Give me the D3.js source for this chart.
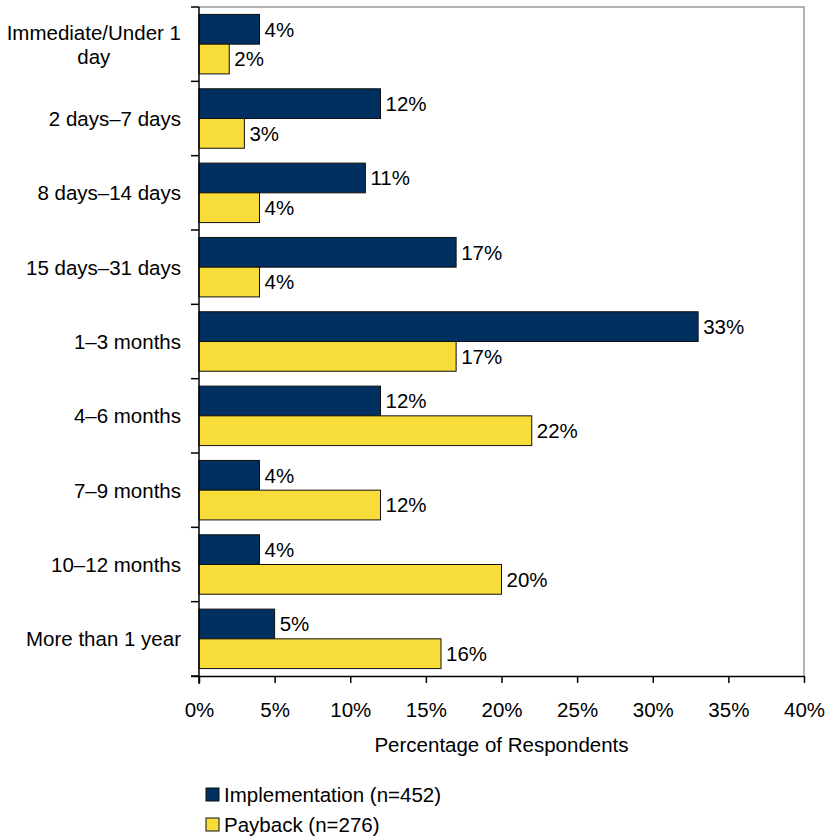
<!DOCTYPE html>
<html>
<head>
<meta charset="utf-8">
<script src="https://cdn.jsdelivr.net/npm/d3@7"></script>
<style>
  html, body { margin: 0; padding: 0; background: #fff; }
  svg { display: block; font-family: "Liberation Sans", Arial, sans-serif; }
</style>
</head>
<body>
<svg id="chart" width="826" height="838"></svg>
<script>
// Time to implement vs. time to payback, share of respondents
const categories = [
  "Immediate/Under 1 day",
  "2 days\u20137 days",
  "8 days\u201314 days",
  "15 days\u201331 days",
  "1\u20133 months",
  "4\u20136 months",
  "7\u20139 months",
  "10\u201312 months",
  "More than 1 year"
];
const seriesNames = ["Implementation (n=452)", "Payback (n=276)"];
const implementation = [4, 12, 11, 17, 33, 12, 4, 4, 5];
const payback = [2, 3, 4, 4, 17, 22, 12, 20, 16];
const xTicks = [0, 5, 10, 15, 20, 25, 30, 35, 40];
const axisTitle = "Percentage of Respondents";

const colors = ["#00305f", "#f7dc3a"];
const fontSize = 20.5;

const svg = d3.select("#chart");
const plot = { left: 199, right: 804, top: 7, bottom: 676 };

const x = d3.scaleLinear().domain([0, 40]).range([plot.left, plot.right]);
const y = d3.scaleBand().domain(categories).range([plot.top, plot.bottom]).padding(0);
const inner = d3.scaleBand().domain([0, 1]).range([0, y.bandwidth()])
  .paddingInner(0).paddingOuter(0.25);

const rows = categories.map((c, i) => ({
  category: c,
  values: [implementation[i], payback[i]]
}));

// top and right frame
svg.append("path")
  .attr("d", `M${plot.left},${plot.top}H${plot.right}V${plot.bottom}`)
  .attr("fill", "none").attr("stroke", "#9a9a9a").attr("stroke-width", 1.5);

// bars
const groups = svg.append("g").selectAll("g").data(rows).join("g")
  .attr("transform", d => `translate(0,${y(d.category)})`);

groups.selectAll("rect").data(d => d.values.map((v, k) => ({ v, k }))).join("rect")
  .attr("x", x(0))
  .attr("y", d => inner(d.k))
  .attr("width", d => x(d.v) - x(0))
  .attr("height", inner.bandwidth())
  .attr("fill", d => colors[d.k])
  .attr("stroke", "#111").attr("stroke-width", 1);

groups.selectAll("text").data(d => d.values.map((v, k) => ({ v, k }))).join("text")
  .attr("x", d => x(d.v) + 5)
  .attr("y", d => inner(d.k) + inner.bandwidth() / 2)
  .attr("dy", "0.36em")
  .attr("font-size", fontSize)
  .attr("fill", "#000")
  .text(d => d.v + "%");

// bottom axis
const xAxis = d3.axisBottom(x).tickValues(xTicks).tickFormat(d => d + "%")
  .tickSize(7).tickPadding(19).tickSizeOuter(0);
const gx = svg.append("g").attr("transform", `translate(0,${plot.bottom})`).call(xAxis);
gx.select(".domain").attr("stroke", "#000").attr("stroke-width", 1.5)
  .attr("d", `M${plot.left - 8},0.5H${plot.right}`);
gx.selectAll(".tick line").attr("stroke", "#000").attr("stroke-width", 1.5);
gx.selectAll(".tick text").attr("font-size", fontSize).attr("fill", "#000")
  .attr("font-family", "Liberation Sans, Arial, sans-serif");

// left axis: line and ticks at category boundaries
const gy = svg.append("g");
gy.append("line")
  .attr("x1", plot.left).attr("x2", plot.left)
  .attr("y1", plot.top).attr("y2", plot.bottom + 8)
  .attr("stroke", "#000").attr("stroke-width", 1.5);
const bounds = categories.map(c => y(c)).concat([plot.bottom]);
gy.selectAll("line.tick").data(bounds).join("line").attr("class", "tick")
  .attr("x1", plot.left - 8).attr("x2", plot.left)
  .attr("y1", d => d).attr("y2", d => d)
  .attr("stroke", "#000").attr("stroke-width", 1.5);

// category labels, wrapped to fit the left margin; wrapped lines are centred
const lineHeight = 24;
const labelRight = 181;
const labels = gy.selectAll("text").data(categories).join("text")
  .attr("font-size", fontSize)
  .attr("fill", "#000");
labels.each(function (c) {
  const t = d3.select(this);
  const words = c.split(" ");
  const lines = [];
  let cur = [];
  const probe = t.append("tspan");
  const widthOf = s => { probe.text(s); return probe.node().getComputedTextLength(); };
  words.forEach(w => {
    const test = cur.concat([w]).join(" ");
    if (widthOf(test) > 182 && cur.length) {
      lines.push(cur.join(" "));
      cur = [w];
    } else {
      cur.push(w);
    }
  });
  lines.push(cur.join(" "));
  const maxW = d3.max(lines, widthOf);
  probe.remove();
  const cy = y(c) + y.bandwidth() / 2;
  const cx = labelRight - maxW / 2;
  lines.forEach((ln, i) => {
    t.append("tspan")
      .attr("x", cx)
      .attr("text-anchor", "middle")
      .attr("y", cy + (i - (lines.length - 1) / 2) * lineHeight)
      .attr("dy", "0.36em")
      .text(ln);
  });
});

// axis title
svg.append("text")
  .attr("x", (plot.left + plot.right) / 2)
  .attr("y", 752)
  .attr("text-anchor", "middle")
  .attr("font-size", fontSize)
  .attr("fill", "#000")
  .text(axisTitle);

// legend
const legend = svg.append("g").selectAll("g").data(seriesNames).join("g")
  .attr("transform", (d, i) => `translate(206,${788 + i * 30})`);
legend.append("rect")
  .attr("width", 13).attr("height", 13)
  .attr("fill", (d, i) => colors[i])
  .attr("stroke", "#111").attr("stroke-width", 1);
legend.append("text")
  .attr("x", 18).attr("y", 6.5).attr("dy", "0.36em")
  .attr("font-size", fontSize)
  .attr("fill", "#000")
  .text(d => d);
</script>
</body>
</html>
